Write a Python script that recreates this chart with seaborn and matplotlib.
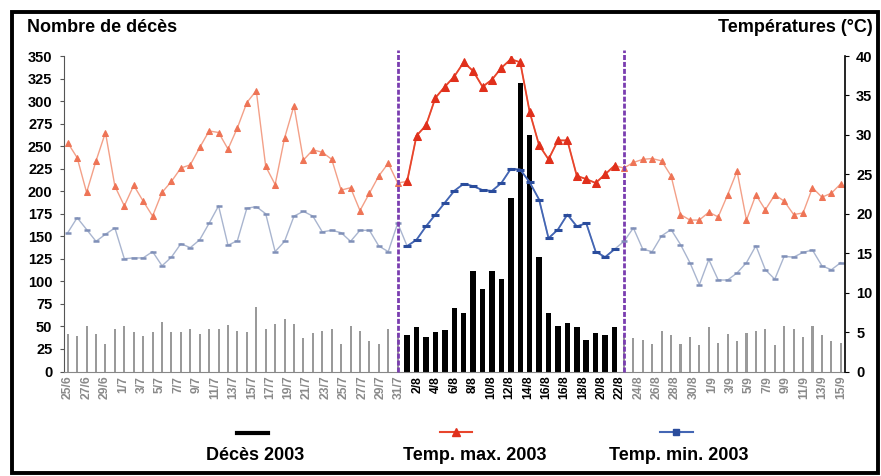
import numpy as np
import pandas as pd
import matplotlib
matplotlib.use("Agg")
import matplotlib.pyplot as plt
import seaborn as sns
from matplotlib.lines import Line2D
from matplotlib.patches import Rectangle

plt.rcParams['font.family'] = ['Liberation Sans', 'DejaVu Sans']
plt.rcParams['font.weight'] = 'bold'

# ---------------- data ----------------
dates = pd.date_range("2003-06-25", "2003-09-15", freq="D")

deaths = [42, 39, 50, 42, 30, 47, 50, 44, 39, 44, 55, 44, 44, 47, 42, 47, 47, 52, 45, 44,
          72, 47, 53, 58, 53, 37, 43, 45, 47, 31, 50, 45, 34, 31, 47,
          43,
          41, 49, 38, 44, 46, 70, 65, 112, 91, 111, 103, 193, 320, 262, 127, 65, 51, 54, 49,
          35, 43, 41, 49,
          40,
          37, 35, 30, 45, 40, 30, 38, 29, 49, 32, 42, 34, 43, 45, 47, 29, 50, 47, 38, 50,
          40, 34, 32]

tmax = [29.0, 27.1, 22.7, 26.7, 30.3, 23.5, 21.0, 23.6, 21.6, 19.7, 22.7, 24.1, 25.8, 26.2,
        28.4, 30.5, 30.3, 28.2, 30.9, 34.1, 35.6, 26.0, 23.7, 29.6, 33.7, 26.8, 28.1, 27.8,
        26.9, 23.0, 23.3, 20.4, 22.6, 24.8, 26.4, 23.9, 24.1, 29.9, 31.2, 34.7, 36.1, 37.4,
        39.2, 38.1, 36.1, 37.0, 38.5, 39.6, 39.2, 32.9, 28.7, 26.9, 29.3, 29.3, 24.8, 24.4,
        23.9, 25.0, 26.1, 25.8, 26.5, 26.9, 27.0, 26.7, 24.8, 19.9, 19.2, 19.2, 20.2, 19.6,
        22.4, 25.4, 19.2, 22.4, 20.5, 22.4, 21.6, 19.9, 20.1, 23.3, 22.1, 22.6, 23.8]

tmin = [17.6, 19.5, 18.0, 16.5, 17.4, 18.2, 14.3, 14.4, 14.4, 15.2, 13.4, 14.5, 16.2, 15.7,
        16.7, 18.8, 21.0, 16.0, 16.6, 20.7, 20.9, 20.0, 15.2, 16.5, 19.7, 20.3, 19.7, 17.7,
        17.9, 17.6, 16.5, 17.9, 17.9, 15.9, 15.2, 18.8, 15.9, 16.7, 18.4, 19.9, 21.4, 22.9,
        23.8, 23.5, 23.0, 22.9, 23.9, 25.7, 25.6, 24.0, 21.8, 16.9, 18.0, 19.9, 18.4, 18.8,
        15.2, 14.5, 15.5, 16.5, 18.2, 15.5, 15.2, 17.2, 18.0, 16.1, 13.8, 11.0, 14.2, 11.6,
        11.6, 12.5, 13.8, 15.95, 12.9, 11.7, 14.6, 14.5, 15.1, 15.4, 13.4, 12.9, 13.8]

tick_labels = ["25/6", "27/6", "29/6", "1/7", "3/7", "5/7", "7/7", "9/7", "11/7", "13/7",
               "15/7", "17/7", "19/7", "21/7", "23/7", "25/7", "27/7", "29/7", "31/7",
               "2/8", "4/8", "6/8", "8/8", "10/8", "12/8", "14/8", "16/8", "16/8", "18/8",
               "20/8", "22/8", "24/8", "26/8", "28/8", "30/8", "1/9", "3/9", "5/9", "7/9",
               "9/9", "11/9", "13/9", "15/9"]

heat_start, heat_end = "2003-07-31", "2003-08-22"
marker_days = ["2003-07-30", "2003-08-23"]

# ---------------- frame ----------------
df = pd.DataFrame({"date": dates, "deaths": deaths, "tmax": tmax, "tmin": tmin})
df["idx"] = np.arange(len(df))
df["heat"] = (df["date"] >= heat_start) & (df["date"] <= heat_end)
heat = df[df["heat"]]
calm = df[~df["heat"]]

W, H = 881, 476
fig = plt.figure(figsize=(W / 100, H / 100), dpi=100)
L, R, T, B = 63.5, 845, 56, 371.5
ax = fig.add_axes([L / W, 1 - B / H, (R - L) / W, (B - T) / H])

sns.barplot(data=calm, x="idx", y="deaths", native_scale=True, width=0.22,
            color="#9a9a9a", saturation=1, errorbar=None, ax=ax)
sns.barplot(data=heat, x="idx", y="deaths", native_scale=True, width=0.58,
            color="black", saturation=1, errorbar=None, ax=ax)

ax2 = ax.twinx()
# max temperature
sns.lineplot(data=df, x="idx", y="tmax", ax=ax2, color="#f3a088", lw=1.0,
             marker="^", ms=5, mfc="#ee7456", mec="#ee7456", errorbar=None)
sns.lineplot(data=heat, x="idx", y="tmax", ax=ax2, color="#e8452c", lw=1.3,
             marker="^", ms=6, mfc="#e0301c", mec="#e0301c", errorbar=None)
# min temperature
sns.lineplot(data=df, x="idx", y="tmin", ax=ax2, color="#a9b5cf", lw=1.0,
             marker="_", ms=5, mew=1.8, mfc="#8090b8", mec="#8090b8", errorbar=None)
sns.lineplot(data=heat, x="idx", y="tmin", ax=ax2, color="#4466b4", lw=1.3,
             marker="_", ms=6, mew=2.2, mfc="#2a4c9c", mec="#2a4c9c", errorbar=None)

for d in marker_days:
    xi = df.loc[df["date"] == d, "idx"].iloc[0]
    ax2.axvline(xi, ymin=0, ymax=1.02, clip_on=False, color="#7a3db0", lw=2,
                ls=(0, (1.8, 0.7)), zorder=10)

n = len(df)
ax.set_xlim(-0.45, n - 1 + 0.45)
ax.set_ylim(0, 350)
ax2.set_ylim(0, 40)
ax.set_yticks(np.arange(0, 351, 25))
ax2.set_yticks(np.arange(0, 41, 5))

ax.set_xticks(np.linspace(0, n - 1, len(tick_labels)))
ax.set_xticklabels(tick_labels, rotation=90, fontsize=8.7, fontweight="bold")
for lab in ax.get_xticklabels():
    d, m = lab.get_text().split("/")
    dark = (m == "8" and int(d) <= 22)
    lab.set_color("black" if dark else "#8a8a8a")
ax.tick_params(axis="x", length=0, pad=3)
ax.tick_params(axis="y", length=3, width=0.8, color="#555555", labelsize=10.5, pad=5)
ax2.tick_params(axis="y", length=3, width=0.8, color="black", labelsize=10.5, pad=5)
for lab in ax.get_yticklabels() + ax2.get_yticklabels():
    lab.set_fontweight("bold")

ax.set_xlabel("")
ax.set_ylabel("")
ax2.set_xlabel("")
ax2.set_ylabel("")
for s in ["top", "right"]:
    ax.spines[s].set_visible(False)
for s in ["top", "left", "bottom"]:
    ax2.spines[s].set_visible(False)
ax.spines["left"].set_color("#555555")
ax.spines["bottom"].set_color("#888888")
ax2.spines["right"].set_color("black")
ax2.spines["right"].set_linewidth(1.2)
ax.patch.set_alpha(0)

# titles
fig.text(27 / W, 1 - 28 / H, "Nombre de décès", ha="left", va="center",
         fontsize=13, fontweight="bold")
fig.text(873 / W, 1 - 28 / H, "Températures (°C)", ha="right", va="center",
         fontsize=13, fontweight="bold")

# legend (symbol above text)
def fx(x):
    return x / W

def fy(y):
    return 1 - y / H

fig.add_artist(Line2D([fx(237), fx(268)], [fy(432.5)] * 2, color="black", lw=3))
fig.add_artist(Line2D([fx(440), fx(456), fx(472)], [fy(432)] * 3, color="#e8452c", lw=1.5,
                      marker="^", ms=6, markevery=[1], mfc="#e0301c", mec="#e0301c"))
fig.add_artist(Line2D([fx(660), fx(676), fx(693)], [fy(432)] * 3, color="#4466b4", lw=1.5,
                      marker="s", ms=4, markevery=[1], mfc="#2a4c9c", mec="#2a4c9c"))
fig.text(fx(255), fy(456), "Décès 2003", ha="center", va="center", fontsize=13, fontweight="bold")
fig.text(fx(475), fy(456), "Temp. max. 2003", ha="center", va="center", fontsize=13, fontweight="bold")
fig.text(fx(679), fy(456), "Temp. min. 2003", ha="center", va="center", fontsize=13, fontweight="bold")

# outer frame
fig.add_artist(Rectangle((fx(12), fy(473)), (878 - 12) / W, (473 - 12) / H,
                         fill=False, ec="black", lw=2.8, transform=fig.transFigure))

fig.savefig("out.png", dpi=100)
